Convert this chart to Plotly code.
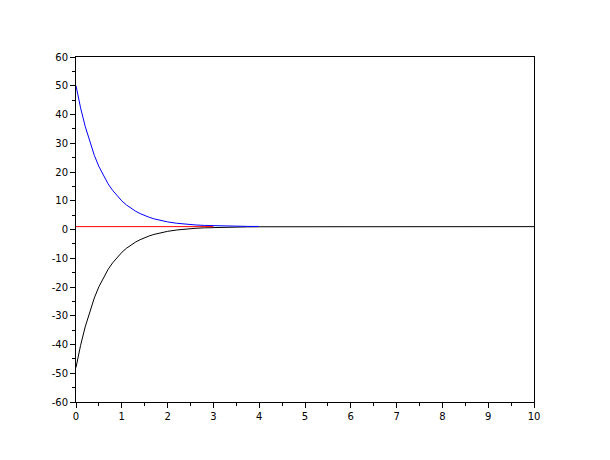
import plotly.graph_objects as go

# Blue curve (decays from 50 toward 1, drawn from x=0 to x=4)
blue_x = [0, 0.1, 0.2, 0.3, 0.4, 0.5, 0.6, 0.7, 0.8, 0.9, 1.0, 1.1, 1.2, 1.3, 1.4,
          1.5, 1.6, 1.7, 1.8, 1.9, 2.0, 2.2, 2.4, 2.6, 2.8, 3.0, 3.25, 3.5, 3.75, 4.0]
blue_y = [50, 42.3, 35.9, 30.4, 25.8, 21.9, 18.7, 15.9, 13.6, 11.6, 9.95, 8.55, 7.37,
          6.38, 5.54, 4.83, 4.23, 3.72, 3.30, 2.94, 2.64, 2.17, 1.83, 1.59, 1.42, 1.30,
          1.2, 1.13, 1.08, 1.05]

# Black curve (rises from -48 toward 1, drawn from x=0 to x=10)
black_x = [0, 0.1, 0.2, 0.3, 0.4, 0.5, 0.6, 0.7, 0.8, 0.9, 1.0, 1.1, 1.2, 1.3, 1.4,
           1.5, 1.6, 1.7, 1.8, 1.9, 2.0, 2.2, 2.4, 2.6, 2.8, 3.0, 3.25, 3.5, 3.75, 4.0,
           5, 6, 7, 8, 9, 10]
black_y = [-48, -40.3, -33.9, -28.4, -23.8, -19.9, -16.7, -13.9, -11.6, -9.6, -7.95,
           -6.55, -5.37, -4.38, -3.54, -2.83, -2.23, -1.72, -1.30, -0.94, -0.64, -0.17,
           0.17, 0.41, 0.58, 0.70, 0.8, 0.87, 0.92, 0.95, 0.99, 1, 1, 1, 1, 1]

# Red equilibrium segment
red_x = [0, 3]
red_y = [1, 1]

x_ticks = list(range(0, 11))
y_ticks = list(range(-60, 61, 10))

fig = go.Figure()
fig.add_trace(go.Scatter(x=black_x, y=black_y, mode="lines",
                         line=dict(color="black", width=1), showlegend=False))
fig.add_trace(go.Scatter(x=red_x, y=red_y, mode="lines",
                         line=dict(color="red", width=1), showlegend=False))
fig.add_trace(go.Scatter(x=blue_x, y=blue_y, mode="lines",
                         line=dict(color="blue", width=1), showlegend=False))

axis_common = dict(showgrid=False, zeroline=False, showline=True, linecolor="black",
                   linewidth=1, mirror=True, ticks="outside", ticklen=5,
                   tickcolor="black", tickwidth=1, automargin=False,
                   tickfont=dict(family="DejaVu Sans", size=10, color="black"))

fig.update_xaxes(range=[0, 10], tickvals=x_ticks, ticktext=[str(v) for v in x_ticks],
                 minor=dict(tickvals=[v + 0.5 for v in range(10)], ticks="outside",
                            ticklen=3, tickcolor="black", tickwidth=1),
                 **axis_common)
fig.update_yaxes(range=[-60, 60], tickvals=y_ticks, ticktext=[str(v) for v in y_ticks],
                 minor=dict(tickvals=[v + 5 for v in range(-60, 60, 10)], ticks="outside",
                            ticklen=3, tickcolor="black", tickwidth=1),
                 **axis_common)

# page body has an 8px default margin, so shrink the figure and margins accordingly
fig.update_layout(width=602, height=452, paper_bgcolor="white", plot_bgcolor="white",
                  margin=dict(l=68, r=76, t=49, b=58), showlegend=False)

fig.write_html("out.html")
